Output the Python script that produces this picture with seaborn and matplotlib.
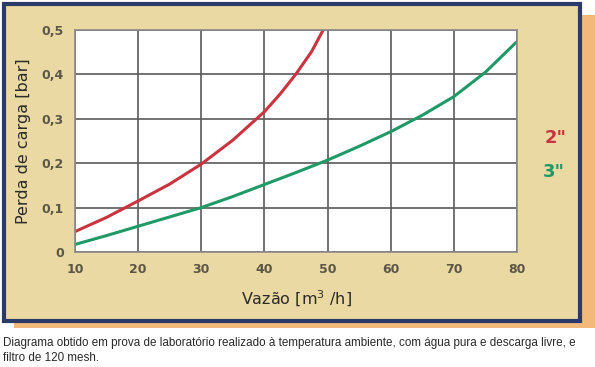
import matplotlib
matplotlib.use("Agg")
import matplotlib.pyplot as plt
from matplotlib.patches import Rectangle
import pandas as pd
import seaborn as sns

# leitura aproximada das curvas
vazao_2 = [10, 15, 20, 25, 30, 35, 40, 42.5, 45, 47.5, 49.3]
perda_2 = [0.046, 0.078, 0.115, 0.153, 0.198, 0.252, 0.316, 0.356, 0.401, 0.452, 0.5]
vazao_3 = [10, 15, 20, 25, 30, 35, 40, 45, 50, 55, 60, 65, 70, 75, 80]
perda_3 = [0.017, 0.037, 0.058, 0.079, 0.10, 0.125, 0.152, 0.179, 0.207, 0.238, 0.271, 0.308, 0.35, 0.405, 0.474]
series_names = ['2"', '3"']
x_ticks = [10, 20, 30, 40, 50, 60, 70, 80]
y_ticks = [0, 0.1, 0.2, 0.3, 0.4, 0.5]
y_tick_labels = ["0", "0,1", "0,2", "0,3", "0,4", "0,5"]

df = pd.concat([
    pd.DataFrame({"vazao": vazao_2, "perda": perda_2, "tubo": series_names[0]}),
    pd.DataFrame({"vazao": vazao_3, "perda": perda_3, "tubo": series_names[1]}),
])

sns.set_theme(style="white")
plt.rcParams["font.family"] = ["DejaVu Sans"]

W, H = 595, 367
fig = plt.figure(figsize=(W / 100, H / 100), dpi=100)
fig.patch.set_facecolor("white")


def px_rect(x0, y0, x1, y1, **kw):
    # retângulo em pixels (origem no topo)
    return Rectangle((x0 / W, 1 - y1 / H), (x1 - x0) / W, (y1 - y0) / H,
                     transform=fig.transFigure, **kw)


# sombra laranja e moldura
fig.patches.append(px_rect(14, 15, 595, 328, facecolor="#f2b97a", edgecolor="none", zorder=0))
fig.patches.append(px_rect(4, 4, 580, 321, facecolor="#ead9a2", edgecolor="#2c3a6a",
                           linewidth=3, zorder=1))

ax = fig.add_axes([75 / W, 1 - 252 / H, (517 - 75) / W, (252 - 30) / H])
ax.set_facecolor("white")
ax.set_zorder(2)

palette = {series_names[0]: "#c9343f", series_names[1]: "#1f9a66"}
sns.lineplot(data=df, x="vazao", y="perda", hue="tubo", palette=palette,
             linewidth=2.2, legend=False, ax=ax)

ax.set_xlim(10, 80)
ax.set_ylim(0, 0.5)
ax.set_xticks(x_ticks)
ax.set_yticks(y_ticks)
ax.set_yticklabels(y_tick_labels)
ax.grid(True, color="#5a5a5a", linewidth=1.2)
ax.set_axisbelow(True)
for s in ax.spines.values():
    s.set_color("#8a8a8a")
    s.set_linewidth(1.2)
ax.tick_params(length=0, pad=8, labelsize=9, labelcolor="#5b5646")
for lbl in ax.get_xticklabels() + ax.get_yticklabels():
    lbl.set_fontweight("bold")

ax.set_xlabel("Vazão [m$^3$ /h]", fontsize=11.5, color="#2a2a2a", labelpad=9)
ax.set_ylabel("Perda de carga [bar]", fontsize=11.5, color="#2a2a2a", labelpad=8)

fig.text(556 / W, 1 - 138 / H, series_names[0], color="#c9343f", fontsize=13,
         fontweight="bold", ha="center", va="center")
fig.text(554 / W, 1 - 172 / H, series_names[1], color="#1f9a66", fontsize=13,
         fontweight="bold", ha="center", va="center")

fig.text(3 / W, 1 - 343 / H,
         "Diagrama obtido em prova de laboratório realizado à temperatura ambiente, com água pura e descarga livre, e",
         fontsize=8.4, color="#2a2a2a", ha="left", va="center", family=["Liberation Sans"])
fig.text(3 / W, 1 - 358 / H, "filtro de 120 mesh.",
         fontsize=8.4, color="#2a2a2a", ha="left", va="center", family=["Liberation Sans"])

fig.savefig("out.png", dpi=100)
